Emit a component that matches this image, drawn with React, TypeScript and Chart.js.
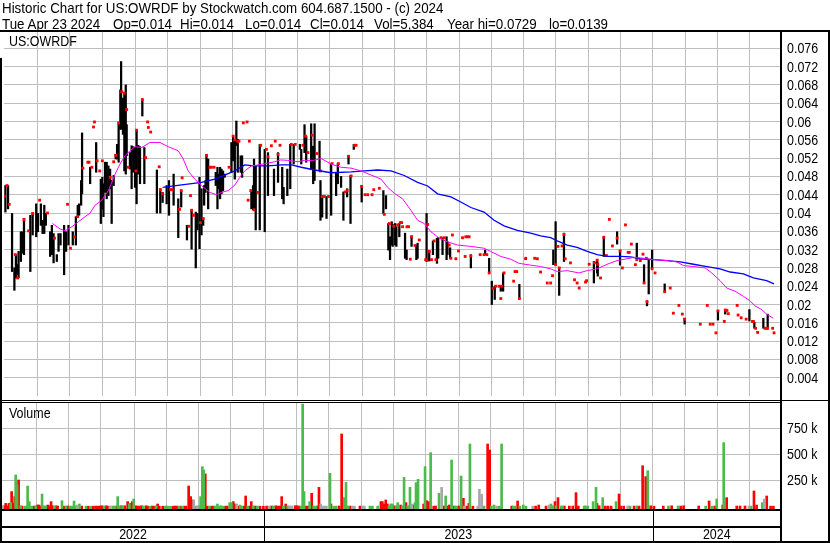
import React, { useEffect, useRef } from 'react';
import { Chart, registerables } from 'chart.js';

Chart.register(...registerables);

// ---------------- DATA ----------------
// x = trading-day index from the first day shown (early May 2022)

const headerTitle = 'Historic Chart for US:OWRDF by Stockwatch.com 604.687.1500 - (c) 2024';
const headerFields = ['Tue Apr 23 2024', 'Op=0.014', 'Hi=0.014', 'Lo=0.014', 'Cl=0.014', 'Vol=5,384', 'Year hi=0.0729', 'lo=0.0139'];
const symbolLabel = 'US:OWRDF';
const volumeLabel = 'Volume';

// [day, low, high]
const priceBars: [number, number, number][] = [
  [0.9,.0402,.0460],[2.6,.0409,.0460],[5.2,.0272,.0399],[6.7,.0231,.0280],[7.7,.0258,.0309],[8.8,.0265,.0287],[9.4,.0258,.0316],[10.9,.0294,.0359],[12.0,.0312,.0359],[12.9,.0309,.0388],
  [17.0,.0272,.0395],[18.5,.0352,.0399],[20.8,.0348,.0420],[21.9,.0359,.0399],[23.8,.0373,.0420],[24.9,.0355,.0384],[26.0,.0355,.0417],[27.0,.0373,.0399],[29.8,.0305,.0359],[30.9,.0309,.0373],
  [32.0,.0291,.0355],[34.1,.0294,.0309],[35.2,.0316,.0355],[36.5,.0330,.0355],[38.8,.0265,.0373],[40.1,.0316,.0359],[41.6,.0330,.0373],[44.4,.0330,.0359],[46.4,.0330,.0392],[47.6,.0392,.0417],
  [48.5,.0395,.0420],[49.8,.0417,.0471],[50.4,.0442,.0575],[55.6,.0464,.0500],[59.5,.0489,.0554],[62.5,.0377,.0474],[63.5,.0409,.0478],[64.2,.0392,.0464],[65.2,.0445,.0511],[66.3,.0431,.0511],
  [67.4,.0438,.0503],[68.5,.0453,.0496],[69.5,.0377,.0471],[70.8,.0460,.0482],[72.1,.0518,.0528],[73.0,.0518,.0550],[74.0,.0511,.0597],[75.1,.0583,.0669],[75.6,.0583,.0731],[76.8,.0572,.0651],
  [77.7,.0492,.0662],[78.6,.0485,.0680],[79.2,.0525,.0593],[81.3,.0496,.0532],[82.4,.0453,.0547],[83.5,.0489,.0545],[84.6,.0456,.0543],[85.6,.0420,.0579],[86.7,.0485,.0548],[87.8,.0464,.0545],
  [89.3,.0612,.0649],[90.6,.0464,.0543],[98.7,.0400,.0494],[100.9,.0400,.0453],[102.4,.0423,.0445],[105.0,.0420,.0460],[106.5,.0395,.0471],[109.5,.0417,.0485],[112.5,.0346,.0431],[114.4,.0413,.0449],
  [118.1,.0341,.0373],[121.1,.0321,.0406],[123.8,.0280,.0402],[124.9,.0363,.0399],[126.2,.0322,.0478],[127.5,.0352,.0453],[128.6,.0373,.0388],[129.2,.0417,.0460],[130.1,.0445,.0471],[130.7,.0453,.0528],
  [131.8,.0409,.0518],[136.7,.0460,.0489],[137.8,.0409,.0500],[138.7,.0453,.0485],[139.5,.0431,.0500],[140.4,.0442,.0496],[141.4,.0449,.0492],[142.5,.0478,.0485],[146.8,.0489,.0554],[147.9,.0514,.0568],
  [149.0,.0474,.0561],[150.0,.0547,.0601],[150.9,.0489,.0561],[152.8,.0489,.0525],[153.7,.0478,.0525],[159.7,.0409,.0449],[160.8,.0407,.0460],[161.4,.0406,.0518],[162.5,.0363,.0503],[165.1,.0363,.0550],
  [168.3,.0359,.0539],[170.4,.0438,.0532],[174.3,.0438,.0496],[176.9,.0467,.0532],
  [179.6,.0431,.0500],[180.5,.0420,.0456],[182.9,.0438,.0496],[184.8,.0453,.0550],[187.0,.0507,.0550],[191.0,.0539,.0550],[191.9,.0507,.0539],[194.0,.0532,.0593],[195.1,.0511,.0568],[198.3,.0496,.0595],
  [199.6,.0464,.0546],[200.5,.0471,.0595],[203.7,.0492,.0557],[204.3,.0384,.0471],[205.4,.0391,.0438],[208.2,.0388,.0436],[211.2,.0395,.0507],[214.4,.0438,.0489],[215.5,.0464,.0508],[217.6,.0456,.0480],
  [219.1,.0384,.0446],[221.5,.0435,.0453],[222.4,.0507,.0525],[223.7,.0377,.0482],[225.8,.0539,.0550],[230.9,.0424,.0460],[244.9,.0399,.0449],[246.6,.0409,.0438],[248.1,.0319,.0377],[249.2,.0298,.0348],
  [250.3,.0330,.0381],[250.9,.0327,.0375],[252.4,.0330,.0377],[253.3,.0327,.0370],[255.2,.0348,.0377],[258.9,.0301,.0356],[259.9,.0298,.0319],[263.1,.0327,.0350],[266.2,.0298,.0330],[267.0,.0301,.0334],
  [272.8,.0294,.0399],[274.5,.0295,.0317],[276.9,.0309,.0339],[279.5,.0290,.0345],[280.3,.0301,.0346],[283.1,.0309,.0346],[285.7,.0298,.0348],[286.3,.0309,.0337],[288.0,.0301,.0324],[301.4,.0280,.0309],
  [310.6,.0309,.0319],[313.2,.0269,.0301],[314.9,.0200,.0251],[316.8,.0211,.0240],[320.7,.0229,.0240],[322.2,.0229,.0269],[332.7,.0213,.0244],[336.8,.0298,.0301],
  [354.6,.0287,.0319],[356.1,.0286,.0381],[358.4,.0220,.0281],[361.5,.0294,.0356],[380.8,.0247,.0294],[382.9,.0269,.0298],[383.3,.0262,.0291],[387.2,.0305,.0348],[395.8,.0332,.0359],[397.7,.0286,.0319],
  [408.5,.0301,.0334],[413.2,.0247,.0287],[415.1,.0197,.0208],[416.2,.0223,.0298],[418.4,.0280,.0319],[426.5,.0229,.0245],[439.4,.0157,.0170],[460.9,.0166,.0186],[465.6,.0179,.0189],[481.2,.0164,.0189],
  [484.4,.0148,.0161],[490.2,.0148,.0170],[493.0,.0148,.0179],
];

// [day, price]
const priceDots: [number, number][] = [
  [0.2,.0437],[1.9,.0460],[3.4,.0419],[7.3,.0309],[8.8,.0258],[12.9,.0386],[15.9,.0361],[18.5,.0399],[23.0,.0428],[28.1,.0400],
  [32.6,.0345],[41.0,.0419],[42.9,.0323],[45.5,.0348],[47.6,.0392],[50.9,.0498],[54.1,.0511],[54.9,.0511],[56.7,.0500],[57.8,.0588],
  [58.4,.0599],[60.1,.0514],[61.8,.0492],[63.5,.0514],[68.5,.0478],[70.8,.0512],[72.1,.0526],[74.0,.0597],[76.0,.0665],[77.7,.0662],
  [79.2,.0626],[80.3,.0500],[85.2,.0492],[85.6,.0581],[89.3,.0648],[91.4,.0521],[92.7,.0599],[93.2,.0587],[94.7,.0577],[100.2,.0501],
  [100.9,.0451],[102.4,.0442],[107.5,.0451],[108.6,.0451],[113.3,.0408],[114.4,.0449],[115.0,.0477],[119.3,.0371],[120.4,.0438],[121.1,.0406],
  [122.3,.0395],[126.9,.0379],[128.6,.0388],[130.7,.0526],[132.9,.0500],[133.9,.0500],[135.6,.0500],[145.3,.0500],[147.9,.0568],[149.0,.0560],
  [150.9,.0557],[151.7,.0557],[154.5,.0597],[156.9,.0599],[157.6,.0428],[158.4,.0557],[159.3,.0449],[161.4,.0407],[164.0,.0445],[165.7,.0548],
  [169.4,.0539],[170.4,.0523],[172.6,.0547],[175.1,.0557],[176.9,.0528],[178.2,.0548],
  [185.5,.0550],[188.0,.0550],[193.0,.0548],[194.7,.0568],[196.2,.0532],[199.0,.0570],[202.0,.0530],[204.3,.0492],[205.4,.0436],[206.9,.0436],
  [209.5,.0436],[211.8,.0508],[215.9,.0508],[220.2,.0446],[221.5,.0449],[222.4,.0524],[224.1,.0481],[226.2,.0548],[227.3,.0548],[230.9,.0458],
  [233.1,.0440],[234.8,.0440],[237.6,.0440],[238.7,.0451],[242.3,.0454],[245.5,.0397],[248.8,.0377],[251.6,.0371],[254.1,.0374],[255.8,.0379],
  [256.7,.0379],[257.3,.0370],[260.1,.0370],[261.2,.0370],[262.3,.0299],[263.1,.0348],[265.3,.0329],[268.1,.0341],[272.2,.0298],[273.5,.0375],
  [274.5,.0316],[276.0,.0298],[277.7,.0339],[278.8,.0298],[282.1,.0346],[284.2,.0346],[287.4,.0330],[288.5,.0301],[289.5,.0352],[291.7,.0300],
  [293.4,.0317],[296.0,.0346],[297.7,.0305],[298.1,.0348],[299.2,.0348],[300.3,.0348],[301.4,.0306],[307.4,.0309],[309.9,.0309],[311.7,.0309],
  [313.2,.0269],[315.8,.0235],[317.4,.0240],[319.6,.0240],[320.7,.0213],[321.3,.0240],[322.8,.0269],[329.0,.0251],[329.9,.0272],[331.0,.0272],
  [332.7,.0213],[336.8,.0301],
  [342.6,.0301],[344.3,.0300],[346.4,.0271],[350.7,.0247],[352.9,.0247],[354.1,.0263],[356.1,.0287],[357.6,.0327],[358.4,.0280],[360.3,.0328],
  [361.5,.0353],[362.3,.0300],[365.7,.0291],[368.3,.0254],[370.0,.0247],[371.3,.0236],[375.4,.0249],[376.1,.0252],[377.8,.0288],[381.2,.0291],
  [382.9,.0297],[383.3,.0288],[385.1,.0258],[387.2,.0347],[388.9,.0307],[390.8,.0386],[392.8,.0328],[395.8,.0345],[397.7,.0317],[399.2,.0280],
  [401.2,.0374],[402.9,.0314],[403.7,.0314],[405.0,.0332],[407.6,.0287],[408.5,.0298],[410.8,.0296],[412.5,.0310],[413.2,.0247],[414.7,.0301],
  [415.1,.0206],[418.4,.0278],[420.3,.0269],[426.5,.0228],[430.1,.0236],[432.1,.0181],[435.7,.0198],[437.9,.0179],[439.4,.0168],[449.5,.0157],
  [454.0,.0198],[455.9,.0157],[457.7,.0157],[459.6,.0138],[460.9,.0186],[465.0,.0163],[465.6,.0188],[466.7,.0187],[467.6,.0180],[473.3,.0198],
  [473.9,.0177],[475.9,.0171],[479.1,.0168],[483.2,.0163],[483.8,.0163],[485.2,.0148],[486.5,.0139],[491.3,.0148],[492.3,.0148],[493.0,.0148],
  [496.2,.0148],[497.1,.0138],
];

// short moving average (magenta) [day, value]
const fastAverage: [number, number][] = [
  [31.3,.0377],[36.3,.0365],[39.5,.0361],[43.8,.0370],[48.1,.0381],[52.4,.0392],[55.6,.0400],[58.8,.0417],[63.1,.0428],[67.4,.0449],
  [71.7,.0485],[74.9,.0507],[78.1,.0525],[81.3,.0536],[84.6,.0545],[88.9,.0543],[94.2,.0554],[100.7,.0554],[106.0,.0545],[112.5,.0536],
  [115.7,.0518],[118.9,.0492],[123.2,.0474],[127.5,.0460],[132.9,.0445],[137.2,.0440],[140.4,.0445],[144.7,.0449],[149.0,.0461],[152.2,.0478],
  [155.4,.0492],[159.7,.0503],[164.0,.0505],[170.4,.0509],[174.7,.0512],[178.6,.0516],[183.3,.0515],[189.7,.0512],[194.0,.0515],[199.4,.0515],
  [204.8,.0519],[211.2,.0507],[217.6,.0500],[224.1,.0498],[230.5,.0492],[237.0,.0483],[243.4,.0474],[247.7,.0456],[252.0,.0443],[257.3,.0431],
  [262.7,.0406],[267.0,.0384],[271.3,.0377],[275.6,.0359],[281.0,.0345],[286.3,.0337],[292.8,.0330],[301.4,.0327],[309.9,.0323],[314.2,.0316],
  [320.7,.0305],[327.1,.0299],[332.5,.0290],[340.0,.0286],[346.4,.0283],[352.9,.0278],[357.2,.0272],[363.6,.0274],[371.1,.0269],[376.5,.0274],
  [382.9,.0278],[389.4,.0288],[395.8,.0296],[402.2,.0300],[406.5,.0303],[412.9,.0301],[419.4,.0298],[428.0,.0296],[434.4,.0293],[438.7,.0285],
  [445.1,.0283],[452.6,.0280],[456.9,.0269],[462.3,.0252],[466.6,.0236],[471.9,.0229],[477.3,.0218],[481.6,.0208],[484.8,.0197],[489.1,.0189],
  [492.3,.0179],[496.6,.0170],
];

// long moving average (blue) [day, value]
const slowAverage: [number, number][] = [
  [102.4,.0456],[113.5,.0461],[127.5,.0467],[136.1,.0474],[149.0,.0492],[155.4,.0505],[161.8,.0503],[170.4,.0503],[179.0,.0505],[185.5,.0505],
  [191.9,.0500],[200.5,.0494],[211.2,.0488],[224.1,.0490],[232.7,.0492],[241.3,.0494],[249.8,.0492],[258.4,.0482],[267.0,.0467],[273.5,.0459],
  [279.9,.0442],[288.5,.0435],[294.9,.0424],[301.4,.0412],[309.9,.0402],[316.4,.0384],[322.8,.0372],[331.4,.0362],[340.0,.0356],[346.4,.0350],
  [352.9,.0346],[357.2,.0339],[363.6,.0330],[370.0,.0325],[376.5,.0316],[382.9,.0309],[389.4,.0305],[398.0,.0305],[404.4,.0304],[410.8,.0300],
  [419.4,.0298],[428.0,.0296],[436.6,.0293],[445.1,.0288],[453.7,.0283],[462.3,.0278],[468.8,.0271],[477.3,.0267],[483.8,.0258],[492.3,.0252],
  [497.1,.0245],
];

// volume in thousands of shares [day, volume]
const upVolume: [number, number][] = [
  [5.6,35],[8.8,301],[9.7,205],[12.0,5],[14.8,1],[15.9,1],[16.5,195],[17.6,45],[19.1,1],[21.7,5],[25.8,118],[27.0,5],[28.1,2],[33.7,2],[38.6,54],
  [41.2,1],[43.8,2],[45.1,2],[46.4,51],[47.6,2],[49.8,22],[54.1,1],[57.1,1],[65.7,2],[71.3,2],[72.5,2],[74.5,93],[75.6,2],[77.7,5],[82.0,22],
  [84.8,70],[91.0,2],[95.3,1],[99.2,2],[105.2,2],[106.0,1],[107.1,1],[108.6,1],[114.0,2],[116.3,1],[124.7,1],[126.9,5],[127.9,93],[129.0,381],[129.9,349],
  [133.5,2],[137.2,2],[138.7,22],[139.9,2],[141.0,5],[142.5,1],[146.6,35],[147.7,35],[153.3,12],[154.5,1],[158.2,2],[161.8,5],[164.4,2],[174.7,2],[181.2,2],
  [183.9,3],[192.5,2],[193.6,983],[194.5,141],[198.1,45],[200.7,2],[202.0,2],[211.2,317],[213.6,1],[215.1,2],[220.4,83],[221.5,230],[223.0,2],[236.9,2],[238.5,2],
  [241.9,2],[249.2,5],[250.3,22],[251.3,22],[253.7,5],[254.8,35],[257.8,5],[258.9,278],[261.2,5],[262.7,182],[265.9,35],[266.6,227],[267.9,259],[272.4,381],[276.0,516],
  [281.4,125],[285.7,99],[289.5,445],[291.7,2],[292.8,2],[295.6,291],[301.3,599],[310.4,2],[315.1,2],[316.8,12],[320.2,2],[321.7,599],[329.2,2],[330.3,2],[333.5,2],
  [335.7,12],[337.4,1],[353.5,22],[354.6,5],[356.7,5],[360.0,2],[361.0,3],[374.8,2],[375.6,3],[377.1,2],[380.6,45],[382.5,182],[386.8,83],[395.4,45],[404.4,2],
  [408.7,3],[415.8,342],[429.1,3],[435.3,3],[453.1,2],[457.0,2],[460.2,70],[464.7,612],[482.3,2],[489.6,35],
];
const downVolume: [number, number][] = [
  [0.3,2],[1.3,3],[2.4,28],[3.4,3],[4.5,28],[6.2,141],[7.3,28],[8.2,93],[10.7,253],[12.9,2],[20.6,2],[22.8,12],[23.8,12],[24.9,2],[29.4,12],
  [30.5,5],[31.6,45],[32.6,5],[34.8,5],[35.8,2],[40.1,2],[42.3,3],[51.3,2],[55.6,1],[58.8,1],[60.3,2],[61.6,1],[63.1,3],[64.4,5],[67.0,5],
  [68.0,2],[73.6,2],[76.6,5],[79.0,5],[80.9,45],[82.9,28],[83.9,45],[85.9,5],[87.1,2],[88.4,2],[89.9,5],[92.7,5],[93.8,2],[96.6,2],[98.1,2],
  [100.2,22],[101.3,1],[103.5,1],[110.3,1],[111.4,2],[112.5,2],[115.3,1],[117.4,1],[118.5,2],[120.2,195],[121.5,93],[122.6,61],[130.9,311],[132.2,1],[134.8,1],
  [136.1,2],[143.6,1],[145.1,2],[148.9,45],[149.8,22],[152.2,2],[155.8,2],[156.9,99],[159.5,2],[160.5,45],[163.1,2],[166.1,1],[168.3,1],[170.4,2],[173.6,3],
  [176.2,5],[177.5,2],[179.0,3],[180.1,93],[182.7,22],[188.7,5],[190.0,5],[191.5,2],[195.5,2],[196.8,2],[199.4,125],[203.0,2],[204.1,182],[211.8,22],[217.0,3],
  [218.7,695],[224.1,2],[230.5,2],[244.0,45],[244.9,45],[246.2,22],[247.1,61],[248.1,22],[252.4,5],[256.7,12],[260.1,35],[264.7,12],[271.5,22],[273.4,54],[274.7,45],
  [278.0,2],[279.2,2],[284.8,3],[287.4,3],[288.1,12],[291.1,2],[294.1,3],[297.1,77],[299.3,2],[300.6,28],[303.2,1],[312.7,599],[314.0,541],[328.2,2],[332.0,51],
  [343.6,2],[345.6,12],[350.3,2],[356.1,45],[358.0,83],[362.1,2],[365.3,2],[367.5,2],[369.6,131],[371.1,2],[383.1,28],[384.5,5],[388.5,2],[390.2,2],[392.2,2],
  [397.3,118],[398.4,2],[400.3,2],[407.0,2],[410.2,2],[412.5,390],[414.5,285],[417.7,5],[419.8,1],[425.8,2],[431.2,5],[437.0,2],[438.9,5],[448.6,3],[455.3,51],
  [458.9,2],[464.1,12],[466.6,83],[473.1,2],[475.2,3],[478.4,3],[484.2,147],[485.9,12],[492.4,99],[494.9,2],[496.7,1],
];
const flatVolume: [number, number][] = [
  [0.4,2],[48.5,12],[69.5,3],[123.4,61],[125.8,5],[151.1,22],[172.0,2],[185.2,3],[186.5,3],[205.2,22],[206.3,2],[207.6,2],[208.9,2],[225.6,2],[226.9,1],
  [232.1,2],[233.3,2],[263.8,22],[283.1,182],[297.7,2],[306.3,2],[307.4,163],[308.9,115],[318.5,2],[341.7,1],[352.2,12],[402.9,3],[481.0,2],[490.8,70],
];

const monthStartDays = [21.9, 42.5, 63.4, 85.0, 105.6, 126.8, 147.4, 168.7, 189.5, 210.4, 231.2, 252.1, 272.9, 293.8, 314.6, 335.5, 356.3, 377.2, 398.0, 418.9, 439.7, 460.6, 481.4];
const yearStartDays = [168.7, 418.9];
const yearLabels = ['2022', '2023', '2024'];
const priceTickLabels = ['0.076', '0.072', '0.068', '0.064', '0.06', '0.056', '0.052', '0.048', '0.044', '0.04', '0.036', '0.032', '0.028', '0.024', '0.02', '0.016', '0.012', '0.008', '0.004'];
const volumeTicksK = [750, 500, 250];

const DAY_MAX = 501.6;
const PRICE_MAX = 0.08;
const VOL_MIN_K = -26;
const VOL_MAX_K = 993;

// ---------------- STYLE ----------------
const FONT = '"Liberation Sans", Arial, Helvetica, sans-serif';
const NARROW = 0.89;
const GRID = '#bebebe';

function narrowText(ctx: CanvasRenderingContext2D, text: string, x: number, y: number, align: CanvasTextAlign) {
  ctx.save();
  ctx.translate(x, y);
  ctx.scale(NARROW, 1);
  ctx.textAlign = align;
  ctx.fillText(text, 0, 0);
  ctx.restore();
}

function xAxis() {
  return {
    type: 'linear' as const,
    min: 0,
    max: DAY_MAX,
    offset: false,
    ticks: { display: false },
    border: { display: false },
    grid: { color: GRID, lineWidth: 1, drawTicks: false, tickLength: 0, offset: false },
    afterBuildTicks: (s: any) => { s.ticks = monthStartDays.map((v) => ({ value: v })); },
    afterFit: (s: any) => { s.height = 0; },
  };
}

export default function App() {
  const priceRef = useRef<HTMLCanvasElement>(null);
  const volRef = useRef<HTMLCanvasElement>(null);

  useEffect(() => {
    const priceLabels = {
      id: 'priceLabels',
      afterDraw(chart: any) {
        const ctx = chart.ctx as CanvasRenderingContext2D;
        const ys = chart.scales.y;
        ctx.save();
        ctx.fillStyle = '#000';
        ctx.font = `14px ${FONT}`;
        ctx.textBaseline = 'alphabetic';
        priceTickLabels.forEach((lab) => {
          narrowText(ctx, lab, 787, ys.getPixelForValue(parseFloat(lab)) + 5, 'left');
        });
        ctx.restore();
      },
    };

    const volumeLabels = {
      id: 'volumeLabels',
      afterDraw(chart: any) {
        const ctx = chart.ctx as CanvasRenderingContext2D;
        const ys = chart.scales.y;
        const xs = chart.scales.x;
        const ca = chart.chartArea;
        ctx.save();
        ctx.fillStyle = '#000';
        ctx.strokeStyle = '#000';
        ctx.lineWidth = 1;
        ctx.font = `14px ${FONT}`;
        ctx.textBaseline = 'alphabetic';
        volumeTicksK.forEach((v) => {
          narrowText(ctx, `${v} k`, 787, ys.getPixelForValue(v) + 5, 'left');
        });
        const bounds = [ca.left, ...yearStartDays.map((d) => xs.getPixelForValue(d)), ca.right];
        yearStartDays.forEach((d) => {
          const x = Math.round(xs.getPixelForValue(d)) + 0.5;
          ctx.beginPath();
          ctx.moveTo(x, ca.bottom);
          ctx.lineTo(x, ca.bottom + 32);
          ctx.stroke();
        });
        yearLabels.forEach((lab, i) => {
          narrowText(ctx, lab, (bounds[i] + bounds[i + 1]) / 2, ca.bottom + 30, 'center');
        });
        ctx.restore();
      },
    };

    const priceChart = new Chart(priceRef.current!, {
      type: 'bar',
      data: {
        datasets: [
          {
            type: 'line',
            data: fastAverage.map(([x, y]) => ({ x, y })),
            borderColor: '#ff00ff',
            borderWidth: 1,
            pointRadius: 0,
            tension: 0,
            order: 0,
          } as any,
          {
            type: 'line',
            data: slowAverage.map(([x, y]) => ({ x, y })),
            borderColor: '#0000ff',
            borderWidth: 1.3,
            pointRadius: 0,
            tension: 0,
            order: 0,
          } as any,
          {
            type: 'line',
            data: priceDots.map(([x, y]) => ({ x, y })),
            showLine: false,
            pointStyle: 'rect',
            pointRadius: 2,
            pointBorderWidth: 0,
            pointBackgroundColor: '#ff0000',
            order: 1,
          } as any,
          {
            type: 'bar',
            data: priceBars.map(([x, lo, hi]) => ({ x, y: [lo, hi] })),
            backgroundColor: '#000',
            barThickness: 1.6,
            grouped: false,
            order: 2,
          } as any,
        ],
      },
      options: {
        responsive: false,
        animation: false,
        events: [],
        layout: { padding: { left: 2, right: 49, top: 30, bottom: 0.5 } },
        plugins: { legend: { display: false }, tooltip: { enabled: false } },
        scales: {
          x: xAxis(),
          y: {
            type: 'linear',
            position: 'right',
            min: 0,
            max: PRICE_MAX,
            ticks: { display: false },
            border: { display: false },
            grid: { color: GRID, lineWidth: 1, drawTicks: false, tickLength: 0 },
            afterBuildTicks: (s: any) => { s.ticks = priceTickLabels.map((l) => ({ value: parseFloat(l) })); },
            afterFit: (s: any) => { s.width = 0; },
          },
        },
      } as any,
      plugins: [priceLabels],
    });

    const volBar = (rows: [number, number][], color: string) => ({
      type: 'bar',
      data: rows.map(([x, y]) => ({ x, y })),
      backgroundColor: color,
      barThickness: 2,
      grouped: false,
      base: VOL_MIN_K,
    } as any);

    const volumeChart = new Chart(volRef.current!, {
      type: 'bar',
      data: {
        datasets: [
          volBar(flatVolume, '#a8a8a8'),
          volBar(upVolume, '#4cba4c'),
          volBar(downVolume, '#ff0000'),
        ],
      },
      options: {
        responsive: false,
        animation: false,
        events: [],
        layout: { padding: { left: 2, right: 49, top: 3, bottom: 34 } },
        plugins: { legend: { display: false }, tooltip: { enabled: false } },
        scales: {
          x: xAxis(),
          y: {
            type: 'linear',
            position: 'right',
            min: VOL_MIN_K,
            max: VOL_MAX_K,
            ticks: { display: false },
            border: { display: false },
            grid: { color: GRID, lineWidth: 1, drawTicks: false, tickLength: 0 },
            afterBuildTicks: (s: any) => { s.ticks = volumeTicksK.map((v) => ({ value: v })); },
            afterFit: (s: any) => { s.width = 0; },
          },
        },
      } as any,
      plugins: [volumeLabels],
    });

    return () => {
      priceChart.destroy();
      volumeChart.destroy();
    };
  }, []);

  const line = (left: number, top: number, width: number, height: number) => (
    <div style={{ position: 'absolute', left, top, width, height, background: '#000' }} />
  );
  const text = (content: string, left: number, top: number, size: number) => (
    <div
      style={{
        position: 'absolute', left, top, fontFamily: FONT, fontSize: size, lineHeight: '16px',
        whiteSpace: 'pre', color: '#000', transform: `scaleX(${NARROW})`, transformOrigin: '0 0',
      }}
    >
      {content}
    </div>
  );
  const fieldX = [2, 113, 180, 245, 310, 374, 447, 549];

  return (
    <div style={{ position: 'fixed', left: 0, top: 0, width: 830, height: 543, background: '#fff', overflow: 'hidden' }}>
      <canvas ref={priceRef} width={830} height={400} style={{ position: 'absolute', left: 0, top: 0, width: 830, height: 400 }} />
      <canvas ref={volRef} width={830} height={143} style={{ position: 'absolute', left: 0, top: 400, width: 830, height: 143 }} />
      {text(headerTitle, 2, 0, 15)}
      {headerFields.map((f, i) => <React.Fragment key={i}>{text(f, fieldX[i], 16, 15)}</React.Fragment>)}
      {text(symbolLabel, 9, 33, 14)}
      {text(volumeLabel, 9, 405, 14)}
      {line(0, 30, 830, 2)}
      {line(0, 58, 2, 485)}
      {line(780, 30, 2, 513)}
      {line(828, 30, 2, 513)}
      {line(0, 400, 830, 1)}
      {line(0, 402, 781, 1)}
      {line(0, 509, 781, 2)}
      {line(0, 526, 781, 2)}
      {line(0, 541, 830, 2)}
    </div>
  );
}
